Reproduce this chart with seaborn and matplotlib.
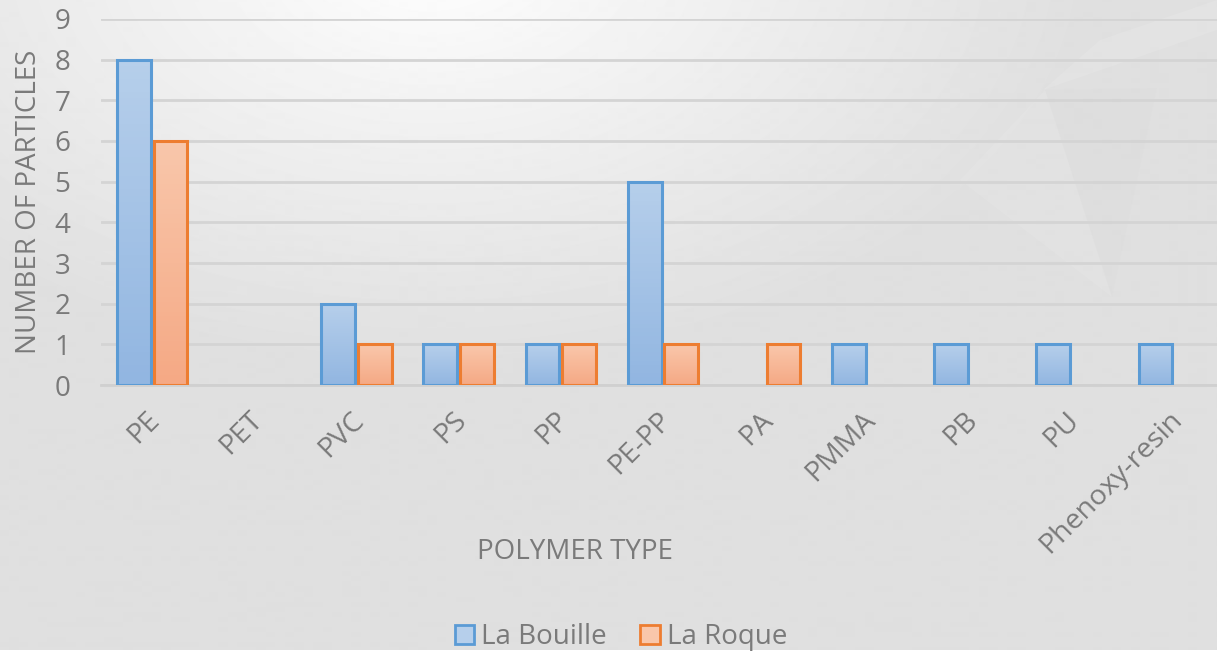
import numpy as np
import matplotlib
matplotlib.use('Agg')
import matplotlib.pyplot as plt
import pandas as pd
import seaborn as sns
from matplotlib.patches import Patch, Polygon
from matplotlib.colors import LinearSegmentedColormap

# Daten
polymers = ['PE', 'PET', 'PVC', 'PS', 'PP', 'PE-PP', 'PA', 'PMMA', 'PB', 'PU', 'Phenoxy-resin']
la_bouille = [8, 0, 2, 1, 1, 5, 0, 1, 1, 1, 1]
la_roque = [6, 0, 1, 1, 1, 1, 1, 0, 0, 0, 0]
sites = ['La Bouille', 'La Roque']

df = pd.DataFrame({'Polymer': polymers * 2,
                   'Site': [sites[0]] * len(polymers) + [sites[1]] * len(polymers),
                   'Particles': la_bouille + la_roque})

edge_cols = {'La Bouille': '#5b9bd5', 'La Roque': '#ed7d31'}
grad_cols = {'La Bouille': ('#b6cfeb', '#92b6e1'), 'La Roque': ('#f9c7ab', '#f5a985')}
text_col = '#7a7a7a'

sns.set_style('white')
plt.rcParams['font.family'] = ['Open Sans', 'DejaVu Sans']

fig = plt.figure(figsize=(12.17, 6.51), dpi=100)

# Hintergrund mit Verlauf
bg = fig.add_axes([0, 0, 1, 1], zorder=-10)
yy, xx = np.mgrid[0:651, 0:1217]
d = np.sqrt(((xx - 430) / 650.0) ** 2 + ((yy + 40) / 400.0) ** 2)
d = np.clip(d, 0, 1) ** 0.9
bg.imshow(255 - (255 - 224) * d, cmap='gray', vmin=0, vmax=255, aspect='auto')
# dezente Dreiecke rechts oben
bg.add_patch(Polygon([[1217, 0], [1217, 30], [1043, 90], [1100, 40]], closed=True,
                     facecolor='white', alpha=0.1, edgecolor='none'))
bg.add_patch(Polygon([[1045, 90], [1157, 88], [1112, 297]], closed=True,
                     facecolor='#d8d8d8', alpha=0.15, edgecolor='none'))
bg.add_patch(Polygon([[960, 180], [1045, 90], [1112, 297]], closed=True,
                     facecolor='white', alpha=0.08, edgecolor='none'))
bg.set_xlim(0, 1217)
bg.set_ylim(651, 0)
bg.axis('off')

ax = fig.add_axes([101 / 1217, 266 / 651, 1124 / 1217, 366 / 651])
ax.set_facecolor('none')

sns.barplot(data=df, x='Polymer', y='Particles', hue='Site', hue_order=sites,
            palette=edge_cols, width=0.72, gap=0.08, legend=False, ax=ax, zorder=3)

# Balken: Rahmen + Farbverlauf
for cont, site in zip(ax.containers, sites):
    cmap = LinearSegmentedColormap.from_list(site, [grad_cols[site][1], grad_cols[site][0]])
    for bar in cont:
        h = bar.get_height()
        if h == 0:
            bar.set_visible(False)
            continue
        bar.set_facecolor('none')
        bar.set_edgecolor(edge_cols[site])
        bar.set_linewidth(2.2)
        bar.set_zorder(4)
        x0 = bar.get_x()
        w = bar.get_width()
        im = ax.imshow(np.linspace(0, 1, 50).reshape(-1, 1), cmap=cmap, origin='lower',
                       extent=[x0, x0 + w, 0, h], aspect='auto', zorder=3)
        im.set_clip_path(bar)

ax.set_xlim(-0.5, 10.5)
ax.set_ylim(0, 9)
ax.set_yticks(range(0, 10))
ax.yaxis.grid(True, color='#d4d4d4', linewidth=2, zorder=0)
ax.set_axisbelow(True)
sns.despine(ax=ax, left=True, right=True, top=True)
ax.spines['bottom'].set_color('#d0d0d0')
ax.spines['bottom'].set_linewidth(2)
ax.tick_params(axis='both', length=0, colors=text_col)
ax.tick_params(axis='y', labelsize=20, pad=22)
ax.set_xticks(range(len(polymers)))
ax.set_xticklabels(polymers, rotation=45, ha='right', rotation_mode='anchor', fontsize=20.5)
for lbl in ax.get_xticklabels():
    lbl.set_transform(lbl.get_transform() + matplotlib.transforms.ScaledTranslation(-0.06, -0.16, fig.dpi_scale_trans))

ax.set_xlabel('')
ax.set_ylabel('NUMBER OF PARTICLES', fontsize=20, color=text_col, labelpad=8)
fig.text(575 / 1217, 1 - 552 / 651, 'POLYMER TYPE', fontsize=20, color=text_col, ha='center', va='center')

handles = [Patch(facecolor=grad_cols[s][0], edgecolor=edge_cols[s], linewidth=2, label=s) for s in sites]
leg = fig.legend(handles=handles, loc='center', bbox_to_anchor=(621 / 1217, 1 - 637 / 651), ncol=2,
                 frameon=False, fontsize=20, handlelength=0.7, handleheight=0.7,
                 handletextpad=0.25, columnspacing=1.2)
for t in leg.get_texts():
    t.set_color(text_col)

plt.savefig('out.png', dpi=100)
